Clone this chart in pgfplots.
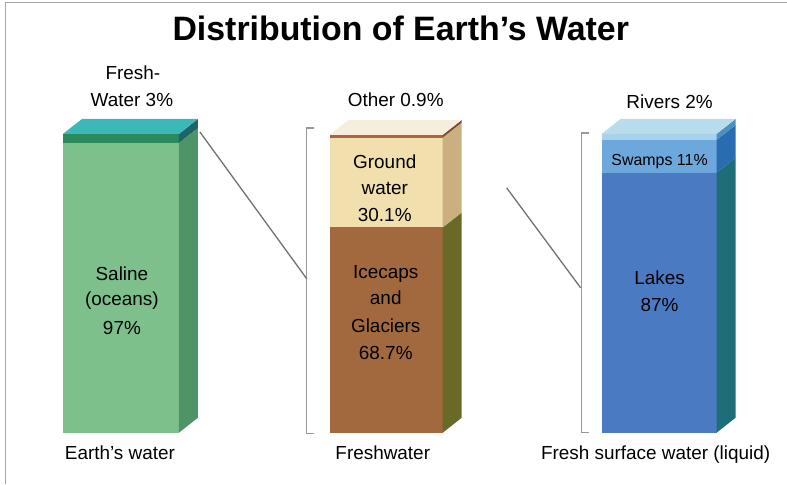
\documentclass[border=0pt]{standalone}
\usepackage{pgfplots}
\pgfplotsset{compat=1.18}
\usepackage{fontspec}
\setmainfont{Liberation Sans}
\definecolor{saline}{HTML}{7DC08C}
\definecolor{salineside}{HTML}{4E9466}
\definecolor{fresh}{HTML}{2A8A5C}
\definecolor{freshside}{HTML}{1E6468}
\definecolor{topA}{HTML}{3DB8B8}
\definecolor{ice}{HTML}{A2693E}
\definecolor{iceside}{HTML}{6A6A28}
\definecolor{ground}{HTML}{F2DFAE}
\definecolor{groundside}{HTML}{C9B07E}
\definecolor{other}{HTML}{B5603E}
\definecolor{otherside}{HTML}{7A4A30}
\definecolor{topB}{HTML}{F5EEDC}
\definecolor{lakes}{HTML}{4A7AC2}
\definecolor{lakesside}{HTML}{1E6E78}
\definecolor{swamps}{HTML}{6CA8DC}
\definecolor{swampsside}{HTML}{2A6CB0}
\definecolor{rivers}{HTML}{A8D2EC}
\definecolor{riversside}{HTML}{4A90C0}
\definecolor{topC}{HTML}{B8DCEC}
\definecolor{conn}{HTML}{707070}
\definecolor{txt}{HTML}{222222}
\newcommand{\lab}[1]{\fontsize{19}{23}\selectfont #1}
\begin{document}
\begin{tikzpicture}
\begin{axis}[
  width=787bp, height=484bp, scale only axis,
  xmin=0, xmax=787, ymin=-17.06, ymax=144.82,
  hide axis, clip=false,
  every axis plot/.append style={draw=none},
  every node/.append style={text=txt},
]
\path (axis cs:0,-17.06) rectangle (axis cs:787,144.82);
% frame
\addplot[draw=gray!70, line width=1pt] coordinates {(6,-17.06)(6,144.15)(787,144.15)};
% ---- Bar 1: Earth's water (saline 97, fresh 3)
\addplot[fill=saline] coordinates {(63,0)(179,0)(179,97)(63,97)} -- cycle;
\addplot[fill=fresh] coordinates {(63,97)(179,97)(179,100)(63,100)} -- cycle;
\addplot[fill=salineside] coordinates {(179,0)(198,5)(198,102)(179,97)} -- cycle;
\addplot[fill=freshside] coordinates {(179,97)(198,102)(198,105)(179,100)} -- cycle;
\addplot[fill=topA] coordinates {(63,100)(179,100)(198,105)(82,105)} -- cycle;
% ---- Bar 2: Freshwater (icecaps 68.7, ground 30.1, other 0.9)
\addplot[fill=ice] coordinates {(330,0)(443,0)(443,68.7)(330,68.7)} -- cycle;
\addplot[fill=ground] coordinates {(330,68.7)(443,68.7)(443,98.8)(330,98.8)} -- cycle;
\addplot[fill=other] coordinates {(330,98.8)(443,98.8)(443,99.7)(330,99.7)} -- cycle;
\addplot[fill=iceside] coordinates {(443,0)(462,5)(462,73.7)(443,68.7)} -- cycle;
\addplot[fill=groundside] coordinates {(443,68.7)(462,73.7)(462,103.8)(443,98.8)} -- cycle;
\addplot[fill=otherside] coordinates {(443,98.8)(462,103.8)(462,104.7)(443,99.7)} -- cycle;
\addplot[fill=topB] coordinates {(330,99.7)(443,99.7)(462,104.7)(349,104.7)} -- cycle;
% ---- Bar 3: Fresh surface water (lakes 87, swamps 11, rivers 2)
\addplot[fill=lakes] coordinates {(602,0)(717,0)(717,87)(602,87)} -- cycle;
\addplot[fill=swamps] coordinates {(602,87)(717,87)(717,98)(602,98)} -- cycle;
\addplot[fill=rivers] coordinates {(602,98)(717,98)(717,100)(602,100)} -- cycle;
\addplot[fill=lakesside] coordinates {(717,0)(736,5)(736,92)(717,87)} -- cycle;
\addplot[fill=swampsside] coordinates {(717,87)(736,92)(736,103)(717,98)} -- cycle;
\addplot[fill=riversside] coordinates {(717,98)(736,103)(736,105)(717,100)} -- cycle;
\addplot[fill=topC] coordinates {(602,100)(717,100)(736,105)(621,105)} -- cycle;
% ---- brackets and connectors
\addplot[draw=gray!80, line width=1.2pt] coordinates {(314,102)(307,102)(307,-0.3)(314,-0.3)};
\addplot[draw=gray!80, line width=1.2pt] coordinates {(589,100.3)(582,100.3)(582,0)(589,0)};
\addplot[draw=conn, line width=1.3pt] coordinates {(200,100.67)(307,51.5)};
\addplot[draw=conn, line width=1.3pt] coordinates {(507,81.94)(581,48.5)};
% ---- texts
\node[anchor=base] at (axis cs:401,131.4) {\fontsize{34}{38}\selectfont\bfseries Distribution of Earth’s Water};
\node[anchor=base] at (axis cs:133,118.06) {\lab{Fresh-}};
\node[anchor=base] at (axis cs:132,109.03) {\lab{Water 3\%}};
\node[anchor=base] at (axis cs:396,109.03) {\lab{Other 0.9\%}};
\node[anchor=base] at (axis cs:670,108.36) {\lab{Rivers 2\%}};
\node[anchor=base] at (axis cs:660,89.3) {\fontsize{16}{19}\selectfont Swamps 11\%};
\node[anchor=base] at (axis cs:385,88.29) {\lab{Ground}};
\node[anchor=base] at (axis cs:385,79.6) {\lab{water}};
\node[anchor=base] at (axis cs:385,70.57) {\lab{30.1\%}};
\node[anchor=base] at (axis cs:122,50.84) {\lab{Saline}};
\node[anchor=base] at (axis cs:122,42.47) {\lab{(oceans)}};
\node[anchor=base] at (axis cs:122,32.78) {\lab{97\%}};
\node[anchor=base] at (axis cs:386,51.51) {\lab{Icecaps}};
\node[anchor=base] at (axis cs:386,42.81) {\lab{and}};
\node[anchor=base] at (axis cs:386,33.44) {\lab{Glaciers}};
\node[anchor=base] at (axis cs:386,24.41) {\lab{68.7\%}};
\node[anchor=base] at (axis cs:660,49.5) {\lab{Lakes}};
\node[anchor=base] at (axis cs:660,40.47) {\lab{87\%}};
\node[anchor=base] at (axis cs:120,-9.03) {\lab{Earth’s water}};
\node[anchor=base] at (axis cs:383,-9.03) {\lab{Freshwater}};
\node[anchor=base] at (axis cs:656,-9.03) {\lab{Fresh surface water (liquid)}};
\end{axis}
\end{tikzpicture}
\end{document}
